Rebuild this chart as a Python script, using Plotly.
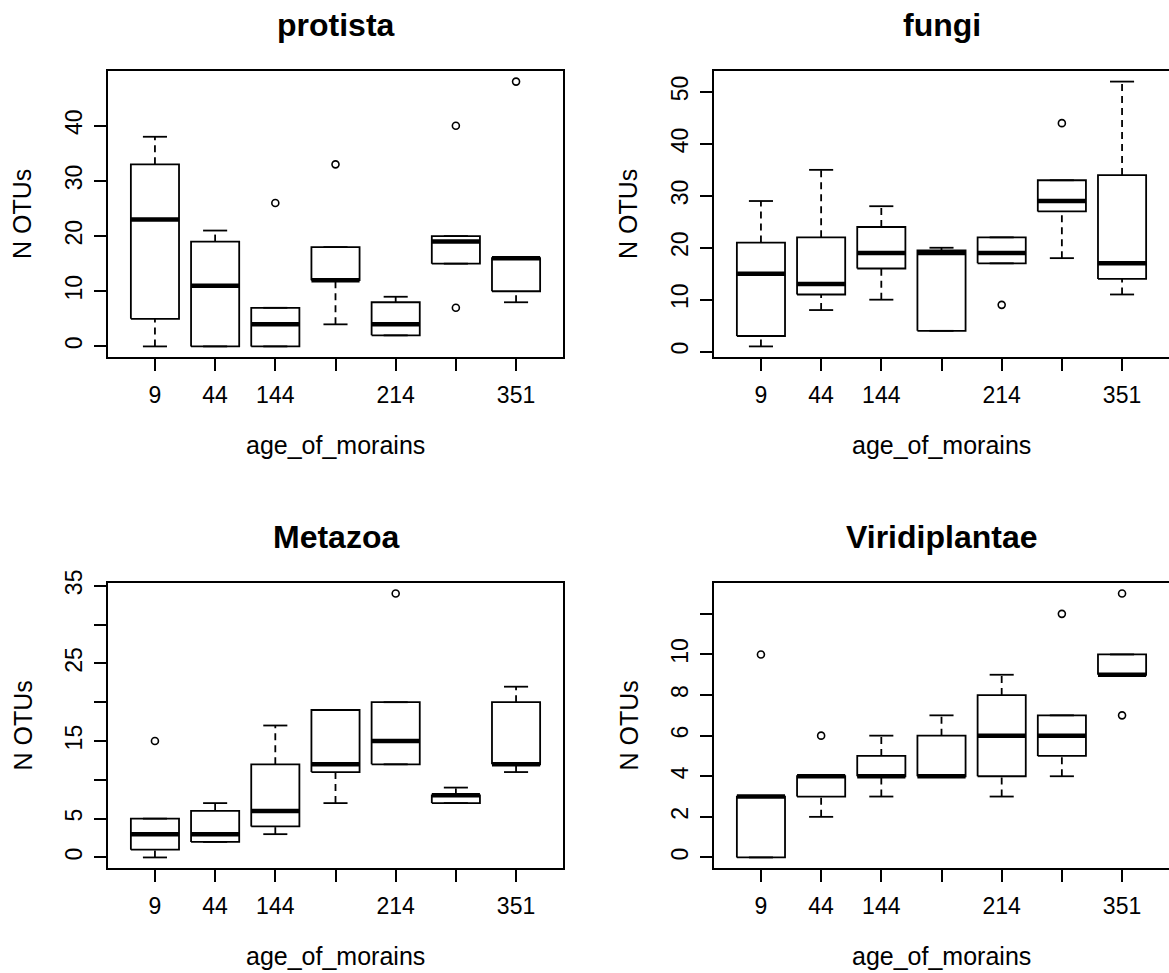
import plotly.graph_objects as go

W, H = 1169, 973

positions = [1, 2, 3, 4, 5, 6, 7]
age_labels = ["9", "44", "144", "", "214", "", "351"]

# ---- protista ----
protista_lower = [0, 0, 0, 4, 2, 15, 8]
protista_q1 = [5, 0, 0, 12, 2, 15, 10]
protista_median = [23, 11, 4, 12, 4, 19, 16]
protista_q3 = [33, 19, 7, 18, 8, 20, 16]
protista_upper = [38, 21, 7, 18, 9, 20, 16]
protista_out_x = [3, 4, 6, 6, 7]
protista_out_y = [26, 33, 40, 7, 48]
protista_ticks = [0, 10, 20, 30, 40]
protista_ticktext = ["0", "10", "20", "30", "40"]

# ---- fungi ----
fungi_lower = [1, 8, 10, 4, 17, 18, 11]
fungi_q1 = [3, 11, 16, 4, 17, 27, 14]
fungi_median = [15, 13, 19, 19, 19, 29, 17]
fungi_q3 = [21, 22, 24, 19.5, 22, 33, 34]
fungi_upper = [29, 35, 28, 20, 22, 33, 52]
fungi_out_x = [5, 6]
fungi_out_y = [9, 44]
fungi_ticks = [0, 10, 20, 30, 40, 50]
fungi_ticktext = ["0", "10", "20", "30", "40", "50"]

# ---- Metazoa ----
metazoa_lower = [0, 2, 3, 7, 12, 7, 11]
metazoa_q1 = [1, 2, 4, 11, 12, 7, 12]
metazoa_median = [3, 3, 6, 12, 15, 8, 12]
metazoa_q3 = [5, 6, 12, 19, 20, 8, 20]
metazoa_upper = [5, 7, 17, 19, 20, 9, 22]
metazoa_out_x = [1, 5]
metazoa_out_y = [15, 34]
metazoa_ticks = [0, 5, 10, 15, 20, 25, 30, 35]
metazoa_ticktext = ["0", "5", "", "15", "", "25", "", "35"]

# ---- Viridiplantae ----
viridi_lower = [0, 2, 3, 4, 3, 4, 9]
viridi_q1 = [0, 3, 4, 4, 4, 5, 9]
viridi_median = [3, 4, 4, 4, 6, 6, 9]
viridi_q3 = [3, 4, 5, 6, 8, 7, 10]
viridi_upper = [3, 4, 6, 7, 9, 7, 10]
viridi_out_x = [1, 2, 6, 7, 7]
viridi_out_y = [10, 6, 12, 13, 7]
viridi_ticks = [0, 2, 4, 6, 8, 10, 12]
viridi_ticktext = ["0", "2", "4", "6", "8", "10", ""]

FONT = "Liberation Sans, Arial, Helvetica, sans-serif"
LW = 1.8
HALF = 0.4      # half box width
STAPLE = 0.2    # half staple width

fig = go.Figure()


def add_panel(idx, lower, q1, med, q3, upper, out_x, out_y):
    xa = "x" if idx == 1 else f"x{idx}"
    ya = "y" if idx == 1 else f"y{idx}"
    wx, wy, bx, by, mx, my, sx, sy = [], [], [], [], [], [], [], []
    for p, lo, a, m, b, hi in zip(positions, lower, q1, med, q3, upper):
        wx += [p, p, None, p, p, None]
        wy += [lo, a, None, b, hi, None]
        bx += [p - HALF, p + HALF, p + HALF, p - HALF, p - HALF, None]
        by += [a, a, b, b, a, None]
        mx += [p - HALF, p + HALF, None]
        my += [m, m, None]
        sx += [p - STAPLE, p + STAPLE, None, p - STAPLE, p + STAPLE, None]
        sy += [lo, lo, None, hi, hi, None]
    common = dict(xaxis=xa, yaxis=ya, mode="lines", showlegend=False, hoverinfo="skip")
    fig.add_trace(go.Scatter(x=wx, y=wy, line=dict(color="black", width=LW, dash="7px,5px"), **common))
    fig.add_trace(go.Scatter(x=sx, y=sy, line=dict(color="black", width=LW), **common))
    fig.add_trace(go.Scatter(x=bx, y=by, line=dict(color="black", width=LW), **common))
    fig.add_trace(go.Scatter(x=mx, y=my, line=dict(color="black", width=4.5), **common))
    fig.add_trace(go.Scatter(x=out_x, y=out_y, xaxis=xa, yaxis=ya, mode="markers", showlegend=False,
                             marker=dict(symbol="circle-open", size=7, color="black", line=dict(width=1.6))))
    vals = list(lower) + list(upper) + list(out_y)
    lo, hi = min(vals), max(vals)
    d = 0.04 * (hi - lo)
    return [lo - d, hi + d]


panels = [
    (protista_lower, protista_q1, protista_median, protista_q3, protista_upper, protista_out_x, protista_out_y,
     protista_ticks, protista_ticktext, "protista"),
    (fungi_lower, fungi_q1, fungi_median, fungi_q3, fungi_upper, fungi_out_x, fungi_out_y,
     fungi_ticks, fungi_ticktext, "fungi"),
    (metazoa_lower, metazoa_q1, metazoa_median, metazoa_q3, metazoa_upper, metazoa_out_x, metazoa_out_y,
     metazoa_ticks, metazoa_ticktext, "Metazoa"),
    (viridi_lower, viridi_q1, viridi_median, viridi_q3, viridi_upper, viridi_out_x, viridi_out_y,
     viridi_ticks, viridi_ticktext, "Viridiplantae"),
]

# pixel boxes (left, right, top, bottom)
boxes = [(108, 563, 71, 357), (714, 1169, 71, 357), (108, 563, 583, 868), (714, 1169, 583, 868)]

layout = {}
annotations = []
for i, (pan, box) in enumerate(zip(panels, boxes), start=1):
    lower, q1, med, q3, upper, ox, oy, tv, tt, title = pan
    yr = add_panel(i, lower, q1, med, q3, upper, ox, oy)
    L, R, T, B = box
    xk = "xaxis" if i == 1 else f"xaxis{i}"
    yk = "yaxis" if i == 1 else f"yaxis{i}"
    ya = "y" if i == 1 else f"y{i}"
    xa = "x" if i == 1 else f"x{i}"
    axis_common = dict(showline=True, linecolor="black", linewidth=LW, mirror=True, showgrid=False,
                       zeroline=False, ticks="outside", ticklen=12, tickwidth=LW, tickcolor="black",
                       automargin=False,
                       tickfont=dict(family=FONT, size=23, color="black"))
    layout[xk] = dict(domain=[L / W, R / W], anchor=ya, range=[0.22, 7.78], tickmode="array",
                      tickvals=positions, ticktext=age_labels, ticklabelstandoff=4, **axis_common)
    layout[yk] = dict(domain=[1 - B / H, 1 - T / H], anchor=xa, range=yr, tickmode="array",
                      tickvals=tv, ticktext=tt, tickangle=-90, ticklabelstandoff=3, **axis_common)
    cx = (L + R) / 2
    cy = (T + B) / 2
    annotations.append(dict(text=f"<b>{title}</b>", x=cx / W, y=1 - (T - 46) / H, xref="paper", yref="paper",
                            xanchor="center", yanchor="middle", showarrow=False,
                            font=dict(family=FONT, size=32, color="black")))
    annotations.append(dict(text="age_of_morains", x=cx / W, y=1 - (B + 88) / H, xref="paper", yref="paper",
                            xanchor="center", yanchor="middle", showarrow=False,
                            font=dict(family=FONT, size=25, color="black")))
    annotations.append(dict(text="N OTUs", x=(L - 86) / W, y=1 - cy / H, xref="paper", yref="paper",
                            xanchor="center", yanchor="middle", showarrow=False, textangle=-90,
                            font=dict(family=FONT, size=25, color="black")))

fig.update_layout(
    template="none",
    width=W, height=H,
    margin=dict(l=0, r=0, t=0, b=0, pad=0, autoexpand=False),
    paper_bgcolor="white", plot_bgcolor="white",
    annotations=annotations,
    **layout,
)

page_fix = (
    "document.documentElement.style.margin='0';document.documentElement.style.overflow='hidden';"
    "document.body.style.margin='0';document.body.style.padding='0';document.body.style.overflow='hidden';"
    "var g=document.getElementById('{plot_id}');"
    "g.style.position='fixed';g.style.left='0px';g.style.top='0px';"
)
fig.write_html("out.html", config={"displayModeBar": False}, post_script=page_fix)
